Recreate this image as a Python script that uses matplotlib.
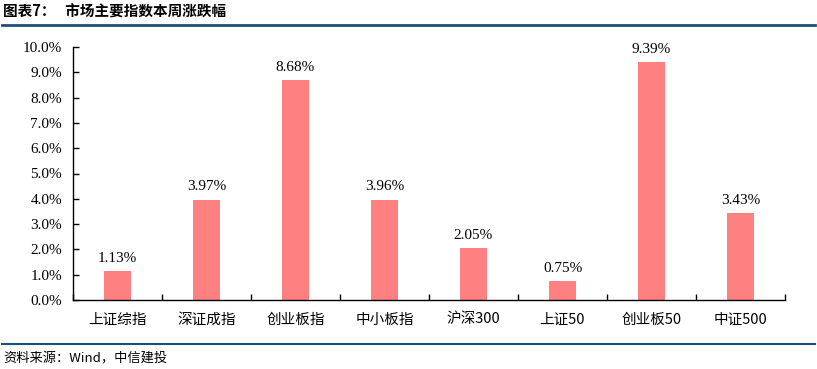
import matplotlib
matplotlib.use("Agg")
import matplotlib.pyplot as plt
from matplotlib.ticker import FuncFormatter, MultipleLocator
from matplotlib.lines import Line2D

categories = ["上证综指", "深证成指", "创业板指", "中小板指", "沪深300", "上证50", "创业板50", "中证500"]
values = [1.13, 3.97, 8.68, 3.96, 2.05, 0.75, 9.39, 3.43]
labels = ["1.13%", "3.97%", "8.68%", "3.96%", "2.05%", "0.75%", "9.39%", "3.43%"]

W, H = 817, 369
fig = plt.figure(figsize=(W / 100, H / 100), dpi=100)
ax = fig.add_axes([73 / W, 1 - 300 / H, (785 - 73) / W, (300 - 47) / H])

x = list(range(len(categories)))
ax.bar(x, values, width=0.31, color="#FF8080", zorder=2)
ax.set_xlim(-0.5, len(categories) - 0.5)
ax.set_ylim(0, 10)
ax.yaxis.set_major_locator(MultipleLocator(1))
ax.yaxis.set_major_formatter(FuncFormatter(lambda v, p: f"{v:.1f}%"))

serif = ["Liberation Serif", "DejaVu Serif"]
cjk = ["Noto Sans CJK SC", "DejaVu Sans"]
for t in ax.get_yticklabels():
    t.set_fontfamily(serif)
    t.set_fontsize(11)
ax.set_xticks(x)
ax.set_xticklabels(categories, fontfamily=cjk, fontsize=10.5)
ax.set_xticks([i + 0.5 for i in range(-1, len(categories))], minor=True)
ax.tick_params(axis="x", which="major", length=0, pad=9)
ax.tick_params(axis="x", which="minor", direction="in", length=4, width=1)
ax.tick_params(axis="y", direction="in", length=4, width=1, pad=8)

for s in ["top", "right"]:
    ax.spines[s].set_visible(False)
for s in ["left", "bottom"]:
    ax.spines[s].set_linewidth(1.0)
    ax.spines[s].set_color("#000000")

for xi, v, lab in zip(x, values, labels):
    ax.text(xi, v + 0.25, lab, ha="center", va="bottom", fontfamily=serif, fontsize=11)

# header and footer
fig.text(3 / W, 1 - 12 / H, "图表7：   市场主要指数本周涨跌幅", fontfamily=cjk, fontsize=10.5,
         fontweight="bold", va="center", ha="left")
fig.add_artist(Line2D([2 / W, 815 / W], [1 - 25 / H, 1 - 25 / H], color="#1F4E79", lw=2))
fig.add_artist(Line2D([2 / W, 815 / W], [1 - 344 / H, 1 - 344 / H], color="#1F4E79", lw=1.5))
fig.text(3 / W, 1 - 359 / H, "资料来源：Wind，中信建投", fontfamily=cjk, fontsize=9.5,
         style="italic", va="center", ha="left")

fig.savefig("out.png", dpi=100)
